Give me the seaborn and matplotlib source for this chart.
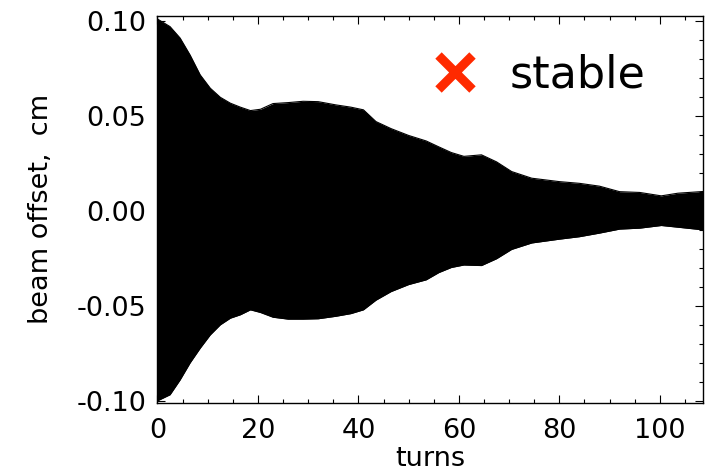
import matplotlib
matplotlib.use("Agg")
import matplotlib.pyplot as plt
from matplotlib.lines import Line2D
from matplotlib.ticker import MultipleLocator
import seaborn as sns
import pandas as pd

# envelope of the transverse beam offset (cm) versus turn number
turns = [0, 2.5, 4.5, 6.5, 8.5, 10.5, 12.5, 14.5, 16.5, 18.5, 20.5, 23, 26, 29,
         32, 35.5, 38.5, 41, 43.5, 46.5, 50, 53.5, 56, 58.5, 61, 64.5, 67.5,
         70.5, 74.5, 80, 84, 88, 92, 96, 100.3, 103.6, 108.6]
upper = [0.101, 0.097, 0.091, 0.082, 0.0716, 0.0646, 0.0598, 0.0567, 0.0546,
         0.0528, 0.0535, 0.0565, 0.057, 0.0577, 0.0575, 0.0558, 0.0546, 0.0532,
         0.047, 0.0433, 0.0397, 0.0368, 0.0337, 0.0307, 0.0287, 0.0295, 0.0258,
         0.0207, 0.0172, 0.0154, 0.0145, 0.0130, 0.0101, 0.0097, 0.0079, 0.0093,
         0.0102]
lower = [-0.100, -0.0968, -0.089, -0.080, -0.0723, -0.0653, -0.060, -0.0565,
         -0.0547, -0.0521, -0.0535, -0.056, -0.057, -0.057, -0.0568, -0.0555,
         -0.0541, -0.0521, -0.047, -0.0425, -0.0388, -0.0363, -0.0325, -0.0298,
         -0.0285, -0.0288, -0.0252, -0.0203, -0.0169, -0.0149, -0.0136, -0.0117,
         -0.0096, -0.0091, -0.0077, -0.0086, -0.0100]

x_ticks = [0, 20, 40, 60, 80, 100]
y_ticks = [-0.10, -0.05, 0.00, 0.05, 0.10]
y_tick_labels = ["-0.10", "-0.05", "0.00", "0.05", "0.10"]
legend_label = "stable"

df = pd.DataFrame({"turns": turns, "upper": upper, "lower": lower})

sns.set_theme(style="ticks")
plt.rcParams["font.family"] = ["DejaVu Sans"]
plt.rcParams["text.color"] = "black"

fig = plt.figure(figsize=(7.05, 4.73), dpi=100)
ax = fig.add_axes([0.2234, 0.14863, 0.99716 - 0.2234, 0.96617 - 0.14863])

ax.fill_between(df["turns"], df["lower"], df["upper"], color="black", lw=0)
sns.lineplot(data=df, x="turns", y="upper", color="black", lw=0.8, ax=ax)
sns.lineplot(data=df, x="turns", y="lower", color="black", lw=0.8, ax=ax)

ax.set_xlim(0, 108.6)
ax.set_ylim(-0.101, 0.1026)
ax.set_xticks(x_ticks)
ax.set_xticklabels([str(t) for t in x_ticks])
ax.set_yticks(y_ticks)
ax.set_yticklabels(y_tick_labels)
ax.xaxis.set_minor_locator(MultipleLocator(5))
ax.yaxis.set_minor_locator(MultipleLocator(0.01))

ax.tick_params(which="both", direction="in", top=True, right=True,
               colors="black", labelsize=19.5)
ax.tick_params(which="major", length=5.8, width=0.8)
ax.tick_params(which="minor", length=2.9, width=0.8)
ax.tick_params(axis="x", pad=11)
ax.tick_params(axis="y", pad=8)
for sp in ax.spines.values():
    sp.set_color("black")
    sp.set_linewidth(1.0)

ax.set_xlabel("turns", fontsize=19.5, labelpad=1.5, color="black")
ax.set_ylabel("beam offset,  cm", fontsize=19.5, labelpad=16, color="black")

handle = Line2D([], [], marker="x", ls="", color="#ff2a00", ms=24.5, mew=6.5,
                label=legend_label)
ax.legend(handles=[handle], loc="center left", bbox_to_anchor=(0.5055, 0.8474),
          frameon=False, fontsize=32, handlelength=1.0, handletextpad=0.72,
          borderpad=0, borderaxespad=0, labelcolor="black")

fig.savefig("out.png", dpi=100)
